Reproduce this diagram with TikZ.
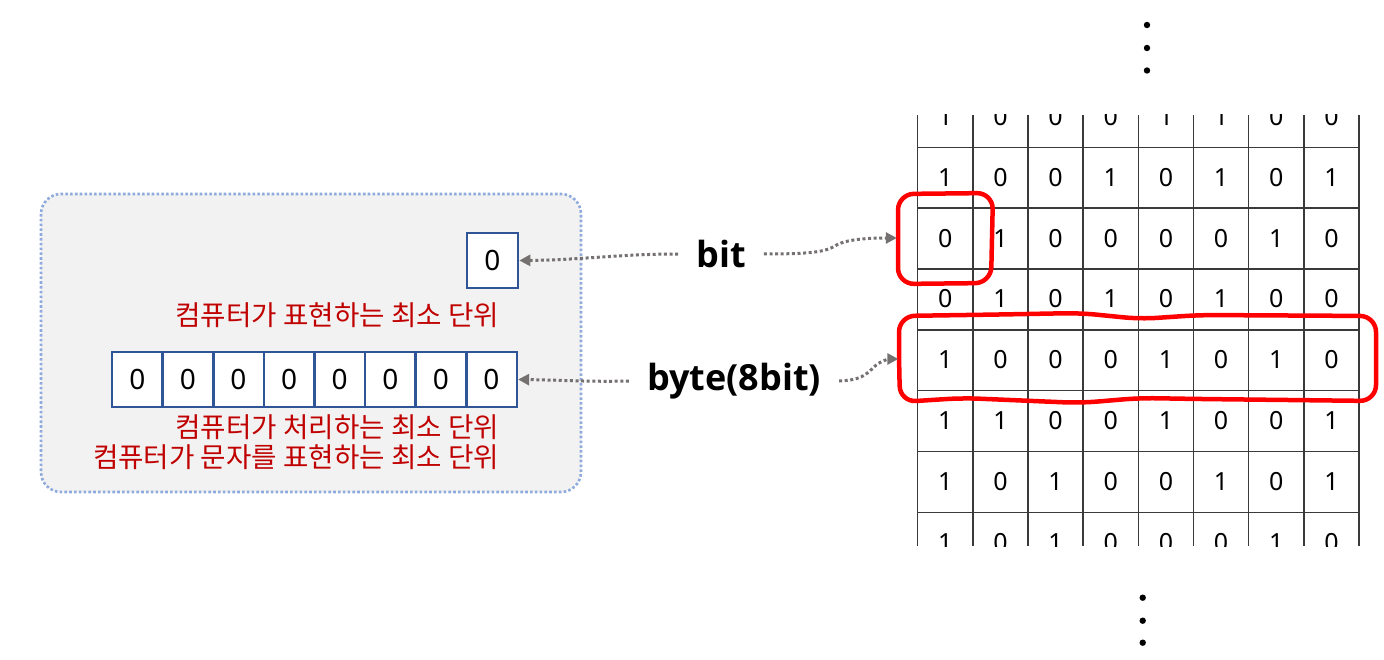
\documentclass[tikz,border=0pt]{standalone}
\usepackage{fontspec}
\setmainfont{Noto Sans}
\newfontfamily\kr{Noto Sans CJK KR}
\newfontfamily\lblfont{Open Sans}
\usetikzlibrary{arrows.meta}
\definecolor{panelfill}{HTML}{F2F2F2}
\definecolor{paneldraw}{HTML}{8FAADC}
\definecolor{cellblue}{HTML}{2F5597}
\definecolor{txtred}{HTML}{C00000}
\definecolor{conngray}{HTML}{767171}
\definecolor{gridline}{HTML}{3A3A3A}
\tikzset{
  panel/.style={fill=panelfill, draw=paneldraw, line width=2.6pt, dash pattern=on 2.6pt off 2.2pt, rounded corners=20pt},
  cell/.style={draw=cellblue, fill=white, line width=2.6pt, minimum height=55pt, inner sep=0pt,
    font=\fontsize{28}{32}\selectfont},
  krtext/.style={text=txtred, font=\kr\fontsize{27.6}{32}\selectfont, inner sep=0pt, anchor=east},
  lbl/.style={font=\lblfont\bfseries\fontsize{36}{44}\selectfont, inner xsep=18pt, inner ysep=2pt},
  conn/.style={draw=conngray, line width=3pt, dash pattern=on 3pt off 2.6pt,
    -{Triangle[length=11pt,width=11pt]}},
  redsel/.style={draw=red, line width=4.5pt, rounded corners=16pt, line join=round},
  digit/.style={font=\fontsize{25}{30}\selectfont, inner sep=0pt},
  gline/.style={draw=gridline, line width=1.5pt},
}
\begin{document}
\begin{tikzpicture}[x=1pt,y=-1pt]
\useasboundingbox (0,0) rectangle (1384,660);

% left panel
\draw[panel] (41,194) rectangle (581,492);

% single bit box
\node[cell, minimum width=51pt] (bitbox) at (492.5,260.5) {0};
\node[krtext] (t1) at (499,315) {컴퓨터가 표현하는 최소 단위};

% byte boxes
\foreach \i in {0,...,7}{
  \node[cell, minimum width=50.6pt] (b\i) at ({112+50.6*(\i+0.5)},379.5) {0};
}
\node[krtext] (t2) at (499,427.5) {컴퓨터가 처리하는 최소 단위};
\node[krtext] (t3) at (499,457) {컴퓨터가 문자를 표현하는 최소 단위};

% labels
\node[lbl] (bit) at (721,254) {bit};
\node[lbl] (byte) at (734,381) {byte(8bit)};

% memory grid
\begin{scope}
\clip (917,115) rectangle (1361,546);
\foreach \i in {0,...,8}{
  \draw[gline] ({917.7+55.16*\i},115) -- ({917.7+55.16*\i},546);
}
\foreach \j in {0,...,6}{
  \draw[gline] (917.7,{147.3+60.83*\j}) -- (1359,{147.3+60.83*\j});
}
\foreach \row [count=\r from 0] in {
  {1,0,0,0,1,1,0,0},
  {1,0,0,1,0,1,0,1},
  {0,1,0,0,0,0,1,0},
  {0,1,0,1,0,1,0,0},
  {1,0,0,0,1,0,1,0},
  {1,1,0,0,1,0,0,1},
  {1,0,1,0,0,1,0,1},
  {1,0,1,0,0,0,1,0}}{
  \foreach \v [count=\c from 0] in \row {
    \node[digit] (d-\r-\c) at ({945.3+55.16*\c},{116.5+60.83*\r}) {\v};
  }
}
\end{scope}

% selection areas
\node[minimum width=96pt, minimum height=90pt, inner sep=0pt] (bitsel) at (945,238) {};
\node[minimum width=477pt, minimum height=88pt, inner sep=0pt] (bytesel) at (1137,359) {};
\draw[redsel] (898,238) -- (898,194) -- (993,193) -- (991,283) -- (898,284) -- cycle;
\draw[redsel] (899,358) -- (899,316) -- (1000,314.5) -- (1080,313) -- (1140,319) -- (1200,315) -- (1376,316)
  -- (1376,401) -- (1200,399) -- (1140,398) -- (1080,403) -- (963,398) -- (900,402) -- cycle;

% dots
\foreach \y in {25,48,70.5}{ \fill (1147,\y) circle (3.2pt); }
\foreach \y in {597.7,620.7,642.7}{ \fill (1142.7,\y) circle (3.2pt); }

% connectors
\draw[conn] (bit.west) .. controls (620,254) and (580,260) .. (bitbox.east);
\draw[conn] (bit.east) .. controls (810,254) and (825,252) .. (835,246) .. controls (845,239) and (870,238) .. (bitsel.west);
\draw[conn] (byte.west) .. controls (590,382) and (560,380) .. (b7.east);
\draw[conn] (byte.east) .. controls (860,380) and (865,376) .. (875,366) .. controls (882,360) and (890,359) .. (bytesel.west);
\end{tikzpicture}
\end{document}
